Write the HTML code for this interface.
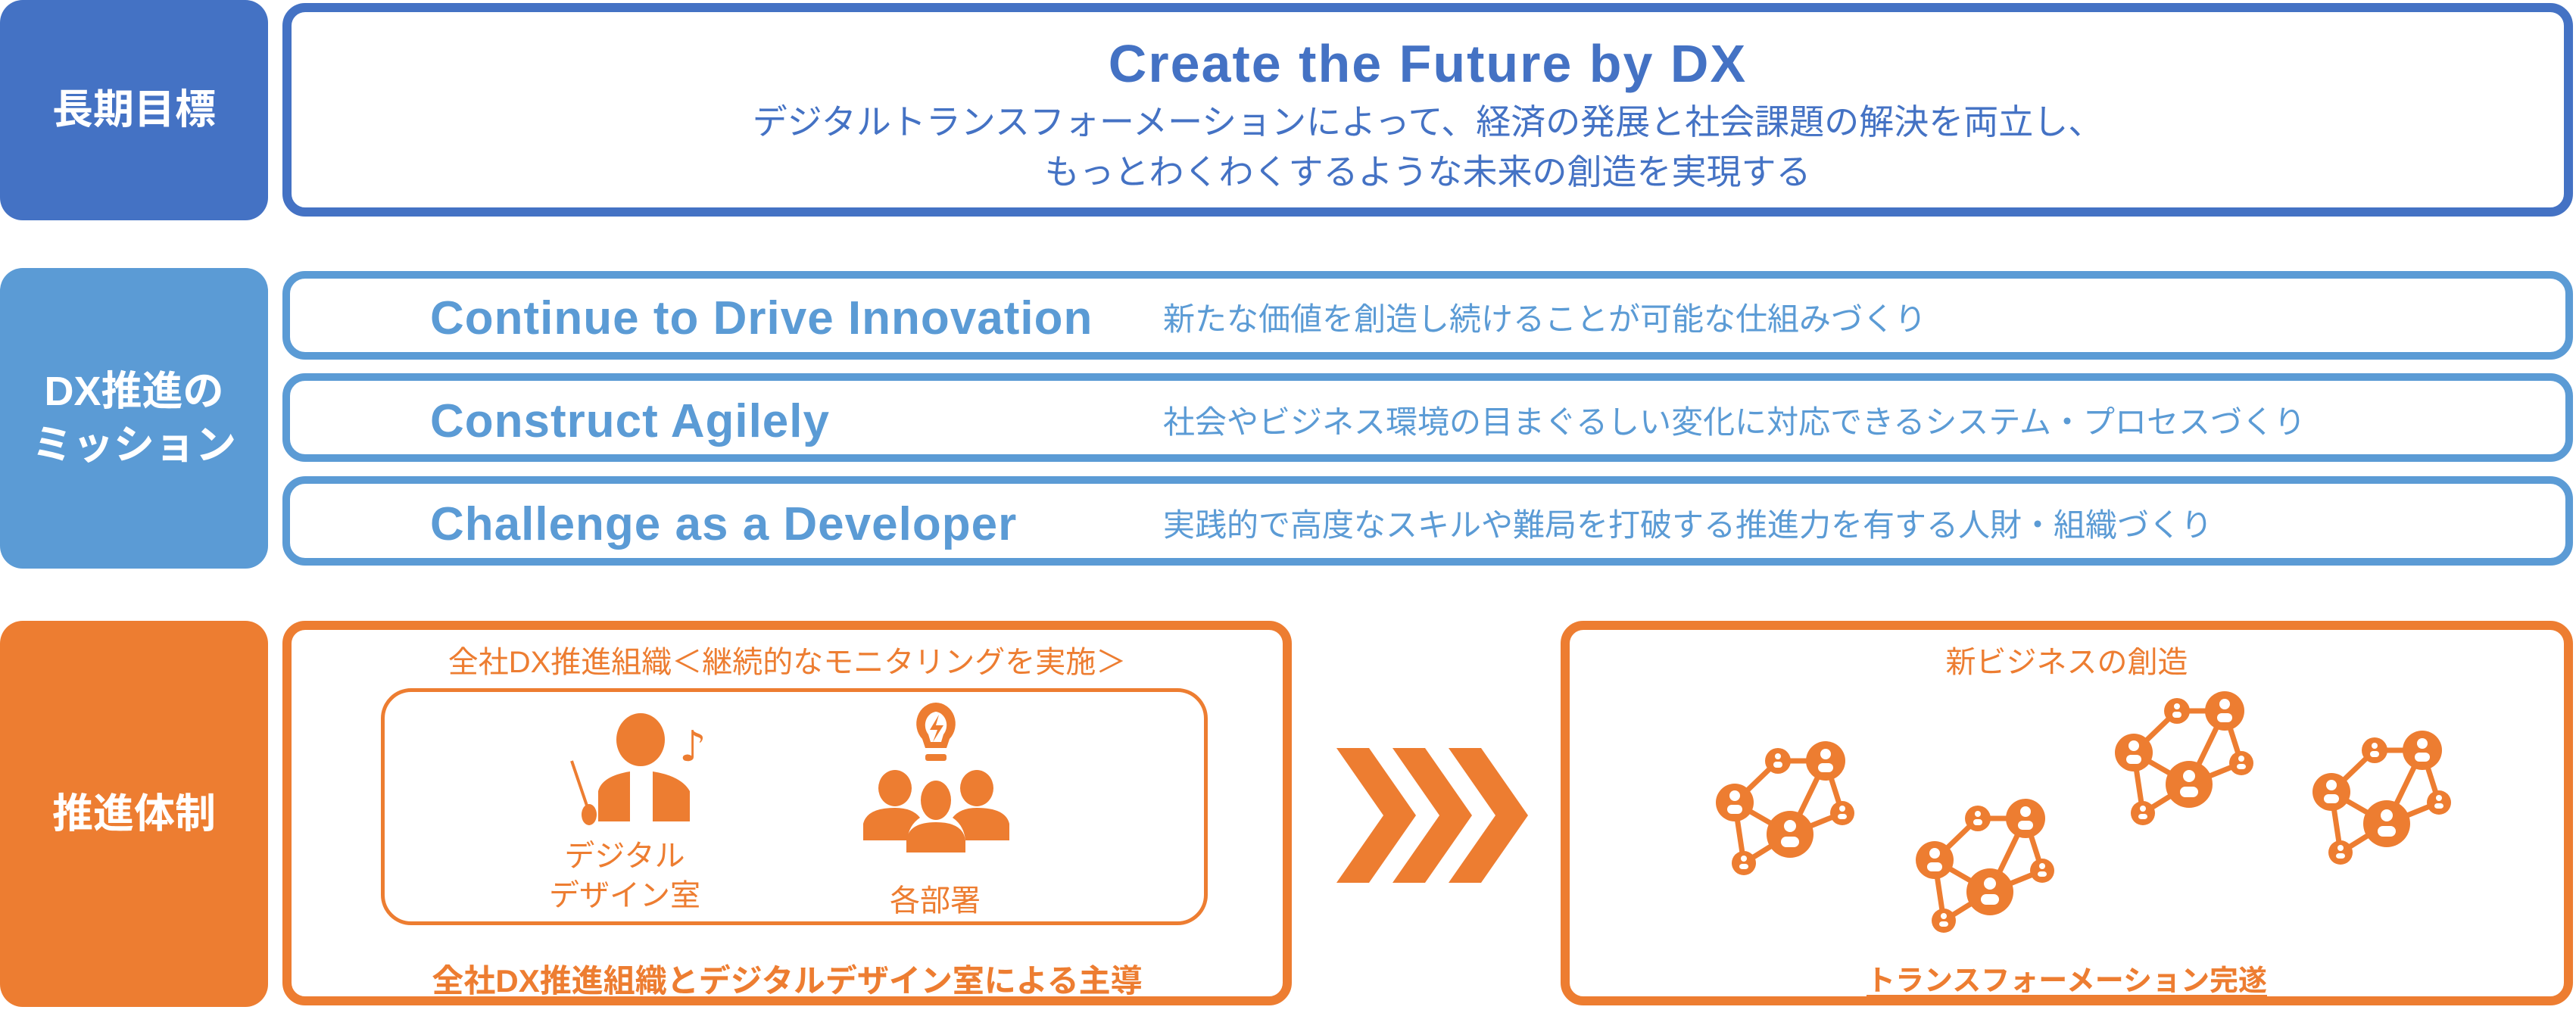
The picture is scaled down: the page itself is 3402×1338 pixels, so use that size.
<!DOCTYPE html>
<html><head><meta charset="utf-8"><style>
*{margin:0;padding:0;box-sizing:border-box}
body{width:3402px;height:1338px;background:#fff;position:relative;overflow:hidden;font-family:"Liberation Sans","Noto Sans CJK JP",sans-serif}
.a{position:absolute}
.lab{position:absolute;border-radius:30px;color:#fff;font-weight:bold;font-size:54px;display:flex;align-items:center;justify-content:center;text-align:center;line-height:1.3}
.box{position:absolute;background:#fff;border-radius:30px}
.t{position:absolute;white-space:nowrap}
.en{font-weight:bold;font-size:62px;letter-spacing:1px;color:#5B9BD5;left:568px}
.jp{font-size:42px;color:#5B9BD5;left:1536px}
</style></head><body>
<div class="lab" style="left:0;top:0;width:354px;height:291px;background:#4472C4">長期目標</div>
<div class="box" style="left:373px;top:4px;width:3025px;height:282px;border:12px solid #4472C4"></div>
<div class="t" style="left:373px;width:3025px;text-align:center;top:44px;font-size:70px;letter-spacing:2px;font-weight:bold;color:#4472C4">Create the Future by DX</div>
<div class="t" style="left:373px;width:3025px;text-align:center;top:128px;font-size:46px;color:#4472C4;line-height:66px">デジタルトランスフォーメーションによって、経済の発展と社会課題の解決を両立し、<br>もっとわくわくするような未来の創造を実現する</div>

<div class="lab" style="left:0;top:354px;width:354px;height:397px;background:#5B9BD5">DX推進の<br>ミッション</div>
<div class="box" style="left:373px;top:358px;width:3025px;height:117px;border:10px solid #5B9BD5"></div>
<div class="box" style="left:373px;top:493px;width:3025px;height:117px;border:10px solid #5B9BD5"></div>
<div class="box" style="left:373px;top:629px;width:3025px;height:118px;border:10px solid #5B9BD5"></div>
<div class="t en" style="top:385px">Continue to Drive Innovation</div>
<div class="t jp" style="top:388px">新たな価値を創造し続けることが可能な仕組みづくり</div>
<div class="t en" style="top:521px">Construct Agilely</div>
<div class="t jp" style="top:524px">社会やビジネス環境の目まぐるしい変化に対応できるシステム・プロセスづくり</div>
<div class="t en" style="top:657px">Challenge as a Developer</div>
<div class="t jp" style="top:660px">実践的で高度なスキルや難局を打破する推進力を有する人財・組織づくり</div>

<div class="lab" style="left:0;top:820px;width:354px;height:510px;background:#ED7D31">推進体制</div>
<div class="box" style="left:373px;top:820px;width:1333px;height:508px;border:12px solid #ED7D31"></div>
<div class="box" style="left:503px;top:909px;width:1092px;height:313px;border:5px solid #ED7D31;border-radius:40px"></div>
<div class="box" style="left:2061px;top:820px;width:1337px;height:508px;border:12px solid #ED7D31"></div>
<div class="t" style="left:373px;width:1333px;text-align:center;top:842px;font-size:40px;color:#ED7D31">全社DX推進組織＜継続的なモニタリングを実施＞</div>
<div class="t" style="left:700px;width:250px;text-align:center;top:1105px;font-size:40px;color:#ED7D31;line-height:52px">デジタル<br>デザイン室</div>
<div class="t" style="left:1110px;width:250px;text-align:center;top:1157px;font-size:40px;color:#ED7D31">各部署</div>
<div class="t" style="left:373px;width:1333px;text-align:center;top:1262px;font-size:42px;font-weight:bold;color:#ED7D31;text-decoration:underline;text-underline-offset:6px">全社DX推進組織とデジタルデザイン室による主導</div>
<div class="t" style="left:2061px;width:1337px;text-align:center;top:842px;font-size:40px;color:#ED7D31">新ビジネスの創造</div>
<div class="t" style="left:2061px;width:1337px;text-align:center;top:1264px;font-size:38px;font-weight:bold;color:#ED7D31;text-decoration:underline;text-underline-offset:6px">トランスフォーメーション完遂</div>

<svg class="a" style="left:0;top:0" width="3402" height="1338">
<defs>
<g id="net" stroke="#ED7D31" stroke-width="7" fill="#ED7D31">
<line x1="-16" y1="-70" x2="47" y2="-70"/><line x1="-16" y1="-70" x2="-73" y2="-15"/>
<line x1="47" y1="-70" x2="0" y2="27"/><line x1="47" y1="-70" x2="69" y2="-1"/>
<line x1="-73" y1="-15" x2="0" y2="27"/><line x1="0" y1="27" x2="69" y2="-1"/>
<line x1="-73" y1="-15" x2="-61" y2="65"/><line x1="0" y1="27" x2="-61" y2="65"/>
<g stroke="none">
<circle cx="-16" cy="-70" r="17"/><circle cx="47" cy="-70" r="26"/><circle cx="-73" cy="-15" r="25"/>
<circle cx="0" cy="27" r="31"/><circle cx="69" cy="-1" r="16"/><circle cx="-61" cy="65" r="16"/>
<g fill="#fff">
<circle cx="-16" cy="-76" r="4"/><rect x="-22" y="-69" width="12" height="8" rx="4"/>
<circle cx="47" cy="-79" r="7"/><rect x="37" y="-67" width="20" height="12" rx="6"/>
<circle cx="-73" cy="-24" r="7"/><rect x="-83" y="-12" width="20" height="12" rx="6"/>
<circle cx="0" cy="16" r="8"/><rect x="-12" y="30" width="24" height="14" rx="7"/>
<circle cx="69" cy="-7" r="4"/><rect x="63" y="0" width="12" height="7" rx="4"/>
<circle cx="-61" cy="59" r="4"/><rect x="-67" y="66" width="12" height="7" rx="4"/>
</g></g></g>
</defs>
<use href="#net" x="2364" y="1075"/>
<use href="#net" x="2628" y="1151"/>
<use href="#net" x="2891" y="1009"/>
<use href="#net" x="3152" y="1061"/>
<g fill="#ED7D31">
<polygon points="1765,988 1808,988 1870,1077 1808,1166 1765,1166 1827,1077"/>
<polygon points="1839,988 1882,988 1944,1077 1882,1166 1839,1166 1901,1077"/>
<polygon points="1913,988 1956,988 2018,1077 1956,1166 1913,1166 1975,1077"/>
</g>
<g fill="#ED7D31">
<ellipse cx="846" cy="977" rx="32" ry="35"/>
<path d="M832 1019 L832 1085 L790 1085 L790 1045 Q795 1025 832 1019Z"/>
<path d="M862 1019 Q900 1025 911 1045 L911 1085 L862 1085Z"/>
<line x1="755" y1="1005" x2="775" y2="1064" stroke="#ED7D31" stroke-width="4"/>
<ellipse cx="778" cy="1076" rx="10" ry="14"/>
<text x="897" y="1005" font-size="56" font-family="DejaVu Sans,sans-serif">♪</text>
<path d="M1236 928 a26 28 0 0 1 18 48 l-4 12 h-28 l-4 -12 a26 28 0 0 1 18 -48z M1236 940 a16 18 0 0 0 -10 30 l3 10 h14 l3 -10 a16 18 0 0 0 -10 -30z" fill-rule="evenodd"/>
<polygon points="1240,944 1228,964 1238,964 1232,980 1246,958 1236,958" />
<rect x="1222" y="996" width="28" height="9" rx="3"/>
<ellipse cx="1182" cy="1041" rx="22" ry="24"/><ellipse cx="1290" cy="1041" rx="22" ry="24"/>
<path d="M1140 1110 L1140 1088 Q1145 1067 1182 1067 Q1205 1067 1215 1080 Q1200 1090 1198 1110Z"/>
<path d="M1333 1110 L1333 1088 Q1328 1067 1290 1067 Q1268 1067 1258 1080 Q1273 1090 1275 1110Z"/>
<ellipse cx="1236" cy="1057" rx="20" ry="26"/>
<path d="M1197 1126 L1197 1110 Q1200 1086 1236 1086 Q1272 1086 1275 1110 L1275 1126Z"/>
</g>
</svg>
</body></html>
